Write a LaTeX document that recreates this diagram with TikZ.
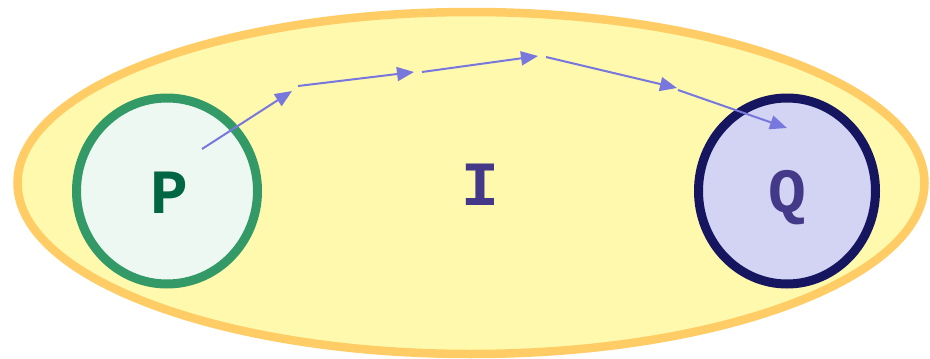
\documentclass[tikz,border=0pt]{standalone}
\usepackage{fontspec}
\setmonofont{Liberation Mono}
\usetikzlibrary{shapes.geometric,arrows.meta}
\definecolor{ellfill}{HTML}{FFF9AD}
\definecolor{elldraw}{HTML}{FFCC66}
\definecolor{pfill}{HTML}{EEF8F2}
\definecolor{pdraw}{HTML}{339966}
\definecolor{ptext}{HTML}{006644}
\definecolor{qfill}{HTML}{D3D3F3}
\definecolor{qdraw}{HTML}{161660}
\definecolor{qtext}{HTML}{443888}
\definecolor{arr}{HTML}{7777DD}
\tikzset{
  setshape/.style={ellipse, draw, inner sep=0pt},
  lbl/.style={font=\ttfamily\bfseries\fontsize{63}{63}\selectfont, anchor=base, inner sep=0pt},
  flow/.style={draw=arr, line width=2pt, -{Triangle[length=17pt,width=14pt]}}
}
\begin{document}
\begin{tikzpicture}[x=1pt,y=-1pt]
\useasboundingbox (0,0) rectangle (930,359);
\node[setshape, fill=ellfill, draw=elldraw, line width=8.5pt, minimum width=907pt, minimum height=342pt] (I) at (471,183) {};
\node[setshape, fill=pfill, draw=pdraw, line width=9pt, minimum width=181pt, minimum height=186pt] (P) at (167,191) {};
\node[setshape, fill=qfill, draw=qdraw, line width=9pt, minimum width=177pt, minimum height=186pt] (Q) at (787,191) {};
\node[lbl, text=ptext] (Plbl) at (169,213) {P};
\node[lbl, text=qtext] (Ilbl) at (480,205) {I};
\node[lbl, text=qtext] (Qlbl) at (787,212) {Q};
\coordinate (s1) at (202,149); \coordinate (e1) at (292,91);
\coordinate (s2) at (298,86);  \coordinate (e2) at (414,72);
\coordinate (s3) at (422,72);  \coordinate (e3) at (538,56);
\coordinate (s4) at (546,57);  \coordinate (e4) at (677,88);
\coordinate (s5) at (678,90);  \coordinate (e5) at (787,128);
\draw[flow] (s1) -- (e1);
\draw[flow] (s2) -- (e2);
\draw[flow] (s3) -- (e3);
\draw[flow] (s4) -- (e4);
\draw[flow] (s5) -- (e5);
\end{tikzpicture}
\end{document}
